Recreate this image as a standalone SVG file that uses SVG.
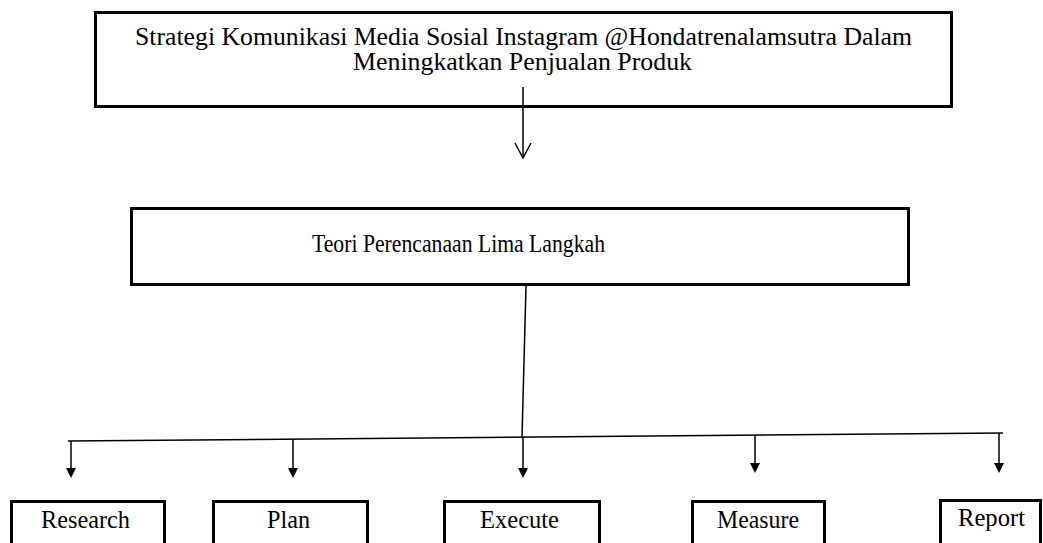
<svg xmlns="http://www.w3.org/2000/svg" width="1043" height="543" viewBox="0 0 1043 543">
<style>
.box{fill:#fff;stroke:#000;stroke-width:3}
.t{font-family:"Liberation Serif","Times New Roman",serif;font-size:25px;fill:#000}
.c{fill:none;stroke:#000;stroke-width:1.5}
.h{fill:#000;stroke:none}
</style>
<defs>
<marker id="open" markerUnits="userSpaceOnUse" markerWidth="20" markerHeight="20" viewBox="0 0 20 20" refX="18" refY="10" orient="auto">
<path d="M3,2 L18,10 L3,18" fill="none" stroke="#000" stroke-width="1.5"/>
</marker>
</defs>
<g id="node-strategi">
<rect class="box" x="95.5" y="12.5" width="856" height="94"/>
<text class="t" x="135" y="45" textLength="777" lengthAdjust="spacingAndGlyphs">Strategi Komunikasi Media Sosial Instagram @Hondatrenalamsutra Dalam</text>
<text class="t" x="353" y="70" textLength="339" lengthAdjust="spacingAndGlyphs">Meningkatkan Penjualan Produk</text>
</g>
<g id="node-teori">
<rect class="box" x="131.5" y="208.5" width="777" height="76"/>
<text class="t" x="312" y="252" textLength="293" lengthAdjust="spacingAndGlyphs">Teori Perencanaan Lima Langkah</text>
</g>
<g id="node-research">
<rect class="box" x="11.5" y="501.5" width="153" height="50"/>
<text class="t" x="41" y="528" textLength="89" lengthAdjust="spacingAndGlyphs">Research</text>
</g>
<g id="node-plan">
<rect class="box" x="213.5" y="501.5" width="154" height="50"/>
<text class="t" x="267" y="528" textLength="43" lengthAdjust="spacingAndGlyphs">Plan</text>
</g>
<g id="node-execute">
<rect class="box" x="444.5" y="501.5" width="155" height="50"/>
<text class="t" x="480" y="528" textLength="79" lengthAdjust="spacingAndGlyphs">Execute</text>
</g>
<g id="node-measure">
<rect class="box" x="692.5" y="501.5" width="132" height="50"/>
<text class="t" x="717" y="528" textLength="82" lengthAdjust="spacingAndGlyphs">Measure</text>
</g>
<g id="node-report">
<rect class="box" x="940.5" y="500.5" width="100" height="50"/>
<text class="t" x="958" y="526" textLength="67" lengthAdjust="spacingAndGlyphs">Report</text>
</g>
<g id="connectors">
<line class="c" x1="523" y1="87" x2="523" y2="158" marker-end="url(#open)"/>
<line class="c" x1="526" y1="286" x2="522" y2="437"/>
<line class="c" x1="68" y1="441" x2="1003" y2="433"/>
<line class="c" x1="71" y1="441" x2="71" y2="469"/>
<polygon class="h" points="66,468 76,468 71,478"/>
<line class="c" x1="293" y1="439" x2="293" y2="469"/>
<polygon class="h" points="288,468 298,468 293,478"/>
<line class="c" x1="523" y1="437" x2="523" y2="469"/>
<polygon class="h" points="518,468 528,468 523,478"/>
<line class="c" x1="755" y1="435" x2="755" y2="464"/>
<polygon class="h" points="750,463 760,463 755,473"/>
<line class="c" x1="999" y1="433" x2="999" y2="464"/>
<polygon class="h" points="994,463 1004,463 999,473"/>
</g>
</svg>
